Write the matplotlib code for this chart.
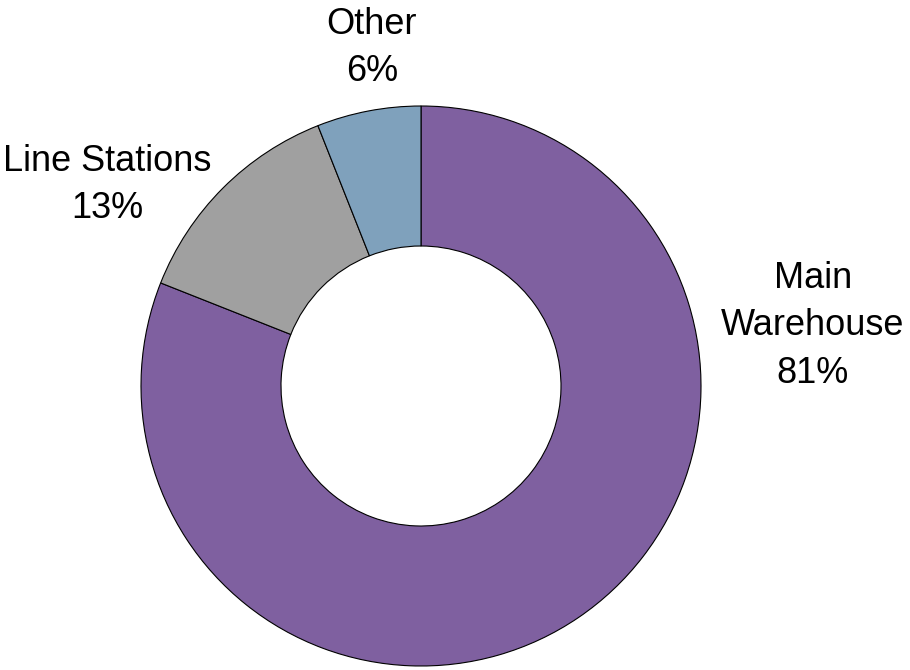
import matplotlib.pyplot as plt

plt.rcParams["font.family"] = ["Liberation Sans", "DejaVu Sans"]

labels = ["Main\nWarehouse", "Line Stations", "Other"]
shares = [81, 13, 6]
colors = ["#7F60A0", "#A0A0A0", "#7FA1BC"]

fig = plt.figure(figsize=(9.1, 6.7), dpi=100)
ax = fig.add_axes([0, 0, 1, 1])

# donut, clockwise from 12 o'clock
wedges, _ = ax.pie(shares, colors=colors, startangle=90, counterclock=False,
                   radius=1.0, center=(0, 0),
                   wedgeprops=dict(width=0.5, edgecolor="black", linewidth=0.8))

# 1 data unit = 280 px, centre at (421, 386) from top-left
s = 280.0
ax.set_xlim(-421 / s, (910 - 421) / s)
ax.set_ylim(-(670 - 386) / s, 386 / s)
ax.set_aspect("equal")
ax.axis("off")

def px(x, y):
    return (x - 421) / s, (386 - y) / s

label_pos = [(813, 326), (107, 185), (372, 48)]
for lab, val, (x, y) in zip(labels, shares, label_pos):
    ax.text(*px(x, y), f"{lab}\n{val}%", ha="center", va="center",
            fontsize=26, linespacing=1.45)

fig.savefig("out.png", dpi=100)
